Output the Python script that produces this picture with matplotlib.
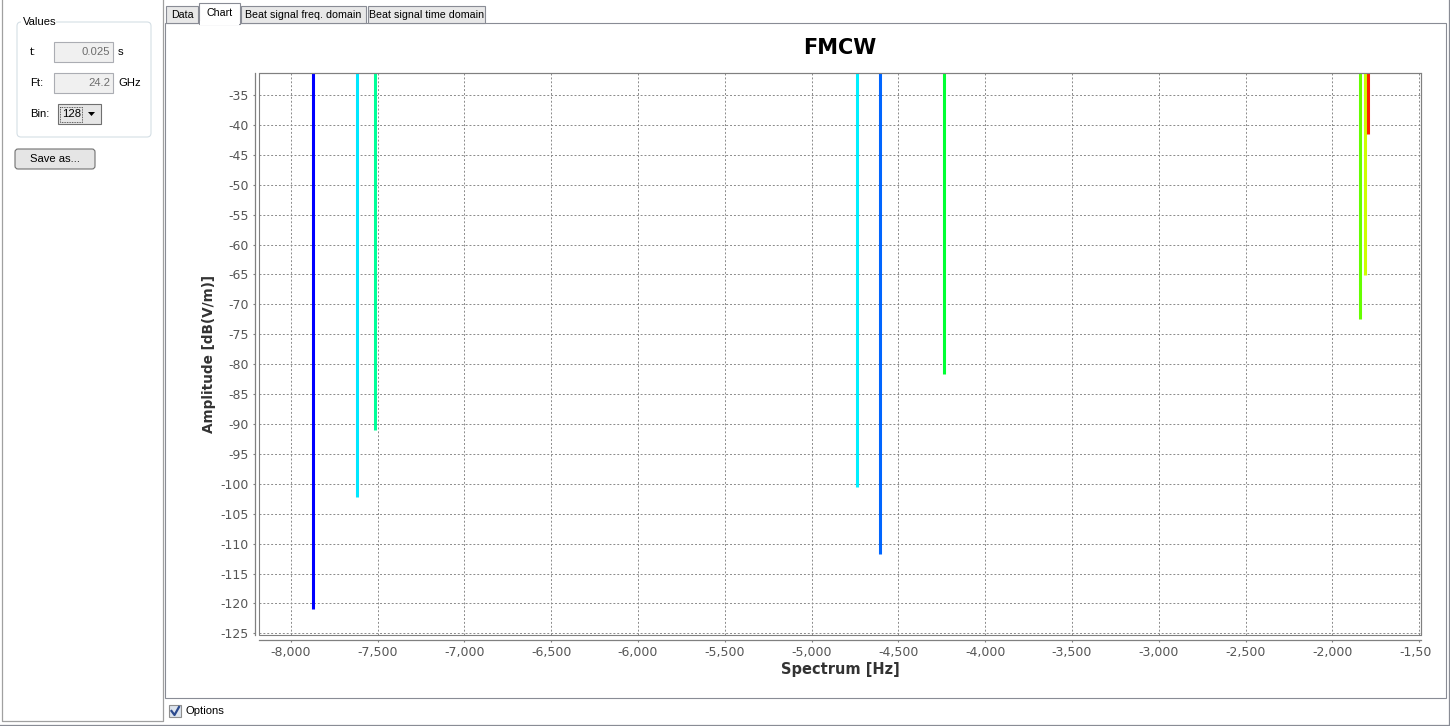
import matplotlib.pyplot as plt
from matplotlib.patches import Rectangle, FancyBboxPatch, Polygon
from matplotlib.transforms import Bbox

plt.rcParams['font.family'] = ['DejaVu Sans']
plt.rcParams['axes.unicode_minus'] = False

# spectrum lines
freqs = [-7875, -7618, -7518, -4740, -4604, -4236, -1840, -1810, -1796]
amps = [-121.0, -102.2, -91.0, -100.5, -111.8, -81.7, -72.5, -65.1, -41.5]
line_colors = ['#0000ff', '#00e8ff', '#00ff99', '#00f0ff', '#0066ff',
               '#00ff33', '#66ff00', '#ccff00', '#ff2000']

x_ticks = list(range(-8000, -1499, 500))
y_ticks = list(range(-125, -34, 5))

tabs = ['Data', 'Chart', 'Beat signal freq. domain', 'Beat signal time domain']
tab_edges = [165, 199, 240, 367, 486]

W, H = 1450, 726
fig = plt.figure(figsize=(W / 100, H / 100), dpi=100)
fig.patch.set_facecolor('white')

# background axes in pixel coordinates for the window chrome
bg = fig.add_axes([0, 0, 1, 1])
bg.set_xlim(0, W)
bg.set_ylim(H, 0)
bg.axis('off')

border = '#898c95'
ui = dict(fontsize=8.1, family='Liberation Sans', va='center')
tab_font = dict(fontsize=7.7, family='Liberation Sans', va='center')


def box(x0, y0, x1, y1, fc='none', ec=border, lw=0.8, z=1):
    p = Rectangle((x0, y0), x1 - x0, y1 - y0, fc=fc, ec=ec, lw=lw, zorder=z)
    bg.add_patch(p)
    return p


def rbox(x0, y0, x1, y1, fc, ec, r=3, z=1):
    bg.add_patch(FancyBboxPatch((x0, y0), x1 - x0, y1 - y0,
                                boxstyle='round,pad=0,rounding_size=%d' % r,
                                fc=fc, ec=ec, lw=0.8, zorder=z))


# outer window edges
bg.plot([0, W], [724.5, 724.5], color=border, lw=0.9)
bg.plot([1449.5, 1449.5], [0, 725], color=border, lw=0.9)

# left panel
bg.plot([2, 2, 163, 163], [0, 721, 721, 0], color='#a0a0a0', lw=0.9)

# "Values" group
rbox(17, 22, 151, 137, 'none', '#d5dfe5', r=4)
bg.add_patch(Rectangle((21, 15), 35, 14, fc='white', ec='none', zorder=2))
bg.text(23, 22, 'Values', zorder=3, **ui)

rows = [('t:', '0.025', 's', 52), ('Ft:', '24.2', 'GHz', 83)]
for lab, val, unit, yc in rows:
    bg.text(30, yc, lab, **ui)
    box(54, yc - 10, 113, yc + 10, fc='#f0f0f0', ec='#abadb3')
    bg.text(110, yc, val, ha='right', color='#6d6d6d', **ui)
    bg.text(118, yc, unit, **ui)

bg.text(30, 114, 'Bin:', **ui)
box(58, 104, 101, 124, fc='#e6e6e6', ec='#707070')
focus = box(60.5, 106.5, 82, 121.5, fc='none', ec='#333333', lw=0.6)
focus.set_linestyle((0, (1, 1)))
bg.text(62, 114, '128', **ui)
bg.add_patch(Polygon([[88, 112], [95, 112], [91.5, 116]], closed=True, fc='black', ec='none'))

rbox(15, 149, 95, 169, '#e5e5e5', '#707070', r=3)
bg.text(55, 159, 'Save as...', ha='center', **ui)

# tab panel
box(165, 23, 1446, 698, fc='white', ec=border)
for i, name in enumerate(tabs):
    x0, x1 = tab_edges[i], tab_edges[i + 1]
    if name == 'Chart':
        box(x0, 3, x1, 23.6, fc='white', ec=border, z=3)
        bg.add_patch(Rectangle((x0 + 0.6, 21), x1 - x0 - 1.2, 4, fc='white', ec='none', zorder=4))
        bg.text((x0 + x1) / 2, 13, name, ha='center', zorder=5, **tab_font)
    else:
        box(x0 + 1, 6, x1 - 1, 23, fc='#e8e8e8', ec=border, z=2)
        bg.text((x0 + x1) / 2, 15, name, ha='center', zorder=5, **tab_font)

# Options checkbox
box(169, 705, 181, 717, fc='#dde4ee', ec='#8f8f8f')
bg.plot([171.5, 174.5, 179], [711, 715, 707], color='#2c4a8e', lw=1.6)
bg.text(186, 711, 'Options', **ui)

# chart area
x_lo, x_hi = -8184, -1489
y_lo, y_hi = -125.28, -31.37
ax = fig.add_axes([259 / W, (H - 635) / H, (1421 - 259) / W, (635 - 73.3) / H])
ax.set_facecolor('white')
ax.vlines(freqs, amps, 0, colors=line_colors, lw=2.2, zorder=3)
ax.set_xlim(x_lo, x_hi)
ax.set_ylim(y_lo, y_hi)
ax.set_xticks(x_ticks)
ax.set_xticklabels(['{:,}'.format(v) for v in x_ticks])
ax.set_yticks(y_ticks)
ax.grid(True, color='#8a8a8a', lw=0.7, linestyle=(0, (2, 2)), zorder=1)

axis_gray = '#808080'
for side in ['top', 'right']:
    ax.spines[side].set_color(axis_gray)
    ax.spines[side].set_linewidth(0.8)
ax.spines['left'].set_position(('outward', 3))
ax.spines['bottom'].set_position(('outward', 3.6))
for side in ['left', 'bottom']:
    ax.spines[side].set_color(axis_gray)
    ax.spines[side].set_linewidth(0.9)
ax.add_patch(Rectangle((0, 0), 1, 1, transform=ax.transAxes, fc='none',
                       ec=axis_gray, lw=0.8, clip_on=False, zorder=4))
ax.tick_params(axis='both', length=1.6, width=0.8, color=axis_gray,
               labelsize=9, labelcolor='#555555', pad=3)

# the chart panel cuts off the last tick label
clip = Bbox.from_extents(0, 0, 1432, H)
for lab in ax.get_xticklabels():
    lab.set_clip_box(clip)
    lab.set_clip_on(True)

ax.set_title('FMCW', fontsize=15, fontweight='bold', pad=14)
ax.set_xlabel('Spectrum [Hz]', fontsize=10.5, fontweight='bold', color='#333333', labelpad=2)
ax.set_ylabel('Amplitude [dB(V/m)]', fontsize=9.8, fontweight='bold', color='#333333', labelpad=3)

fig.savefig('out.png', dpi=100)
